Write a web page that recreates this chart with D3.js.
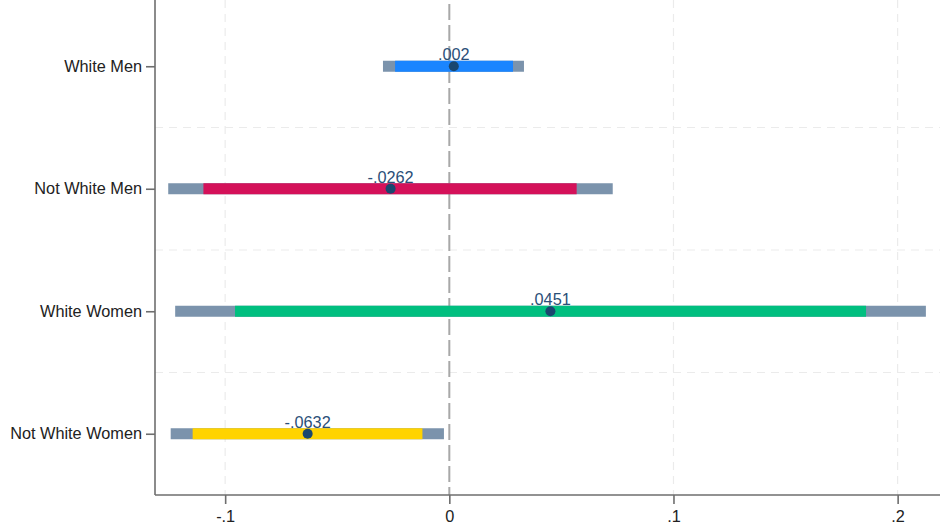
<!DOCTYPE html>
<html>
<head>
<meta charset="utf-8">
<script src="https://cdn.jsdelivr.net/npm/d3@7"></script>
<style>
  html, body { margin: 0; padding: 0; background: #fff; }
  svg { display: block; font-family: "Liberation Sans", Arial, sans-serif; }
</style>
</head>
<body>
<svg id="chart" width="943" height="531"></svg>
<script>
// Coefficient estimates with 90% (inner) and 95% (outer) intervals
const groups = ["White Men", "Not White Men", "White Women", "Not White Women"];
const estimates = [0.002, -0.0262, 0.0451, -0.0632];
const labels = [".002", "-.0262", ".0451", "-.0632"];
const ci95Low = [-0.0296, -0.1254, -0.1223, -0.1243];
const ci95High = [0.0333, 0.0729, 0.2126, -0.0024];
const ci90Low = [-0.0242, -0.1097, -0.0956, -0.1145];
const ci90High = [0.0284, 0.0568, 0.1859, -0.0120];
const barColors = ["#1a85ff", "#d41159", "#00bf7f", "#ffd300"];
const xTicks = [-0.1, 0, 0.1, 0.2];
const xTickLabels = ["-.1", "0", ".1", ".2"];

(function () {
  const svg = d3.select("#chart");
  const plotLeft = 155, plotRight = 940, plotTop = 5, plotBottom = 495;
  const fontSize = 16.3;

  const x = d3.scaleLinear().domain([-0.1313, 0.2189]).range([plotLeft, plotRight]);
  const y = d3.scaleLinear().domain([0.5, 4.5]).range([plotTop, plotBottom]);

  const rows = groups.map((g, i) => ({
    g, pos: i + 1, est: estimates[i], lab: labels[i],
    lo95: ci95Low[i], hi95: ci95High[i], lo90: ci90Low[i], hi90: ci90High[i],
    color: barColors[i]
  }));

  // Horizontal grid between groups
  svg.append("g").selectAll("line").data([1.5, 2.5, 3.5]).join("line")
    .attr("x1", plotLeft).attr("x2", plotRight)
    .attr("y1", d => y(d)).attr("y2", d => y(d))
    .attr("stroke", "#ebebeb").attr("stroke-width", 1.2)
    .attr("stroke-dasharray", "8,6");

  // Vertical grid
  svg.append("g").selectAll("line").data(xTicks.filter(t => t !== 0)).join("line")
    .attr("x1", d => x(d)).attr("x2", d => x(d))
    .attr("y1", 0).attr("y2", y(4.5))
    .attr("stroke", "#ebebeb").attr("stroke-width", 1.2)
    .attr("stroke-dasharray", "8,6");

  // Reference line at zero
  svg.append("line")
    .attr("x1", x(0)).attr("x2", x(0))
    .attr("y1", 4).attr("y2", y(4.5))
    .attr("stroke", "#a8a8a8").attr("stroke-width", 2)
    .attr("stroke-dasharray", "16,5");

  // Outer intervals
  svg.append("g").selectAll("rect").data(rows).join("rect")
    .attr("x", d => x(d.lo95)).attr("width", d => x(d.hi95) - x(d.lo95))
    .attr("y", d => y(d.pos) - 5.5).attr("height", 11)
    .attr("fill", "#7b93ac");

  // Inner intervals
  svg.append("g").selectAll("rect").data(rows).join("rect")
    .attr("x", d => x(d.lo90)).attr("width", d => x(d.hi90) - x(d.lo90))
    .attr("y", d => y(d.pos) - 5.5).attr("height", 11)
    .attr("fill", d => d.color);

  // Point estimates
  svg.append("g").selectAll("circle").data(rows).join("circle")
    .attr("cx", d => x(d.est)).attr("cy", d => y(d.pos))
    .attr("r", 5).attr("fill", "#1a476f");

  // Value labels
  svg.append("g").selectAll("text").data(rows).join("text")
    .attr("x", d => x(d.est)).attr("y", d => y(d.pos) - 6)
    .attr("text-anchor", "middle")
    .attr("font-size", fontSize).attr("fill", "#2b4f78")
    .text(d => d.lab);

  // X axis
  const xAxis = d3.axisBottom(x).tickValues(xTicks)
    .tickFormat((d, i) => xTickLabels[i]).tickSize(9).tickPadding(6);
  const gx = svg.append("g").attr("transform", `translate(0,${y(4.5)})`).call(xAxis);
  gx.select(".domain").attr("stroke", "#6e6e6e").attr("stroke-width", 1.6)
    .attr("d", `M${plotLeft},0H${plotRight}`);
  gx.selectAll(".tick line").attr("stroke", "#6e6e6e").attr("stroke-width", 1.6);
  gx.selectAll(".tick text").attr("font-size", fontSize).attr("fill", "#222")
    .attr("font-family", "Liberation Sans, Arial, sans-serif");

  // Y axis
  const yAxis = d3.axisLeft(y).tickValues([1, 2, 3, 4])
    .tickFormat((d, i) => groups[i]).tickSize(9).tickPadding(4);
  const gy = svg.append("g").attr("transform", `translate(${plotLeft},0)`).call(yAxis);
  gy.select(".domain").attr("stroke", "#6e6e6e").attr("stroke-width", 1.6)
    .attr("d", `M0,0V${y(4.5)}`);
  gy.selectAll(".tick line").attr("stroke", "#6e6e6e").attr("stroke-width", 1.6);
  gy.selectAll(".tick text").attr("font-size", fontSize).attr("fill", "#222")
    .attr("font-family", "Liberation Sans, Arial, sans-serif");
})();
</script>
</body>
</html>
